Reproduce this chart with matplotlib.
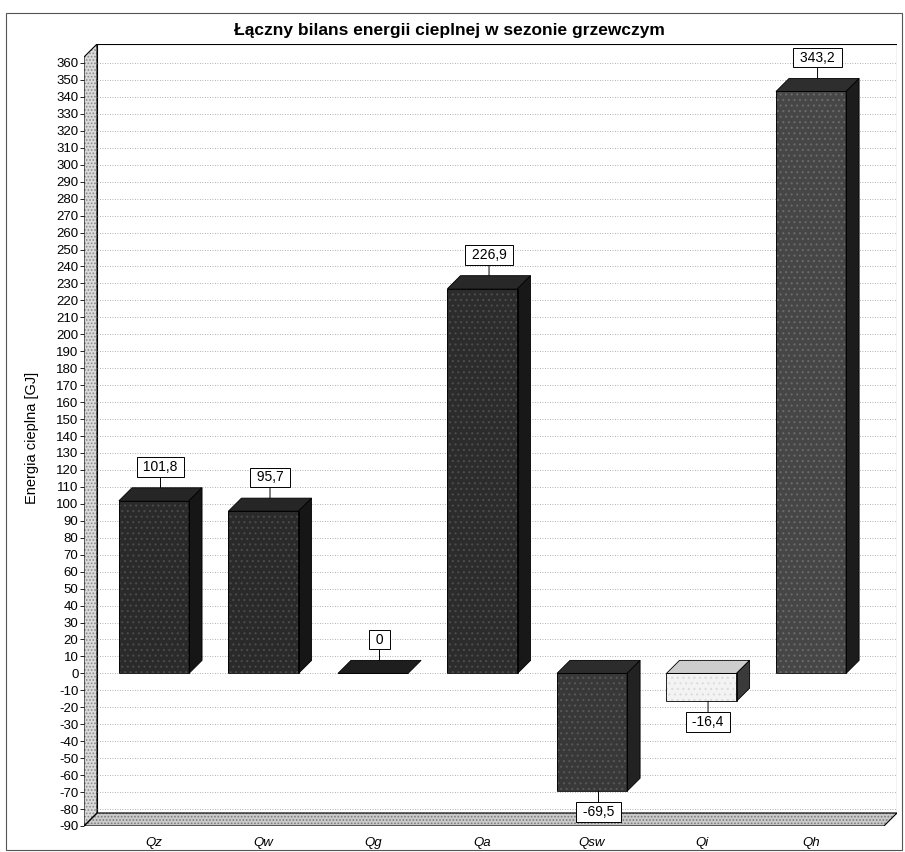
import numpy as np
import matplotlib.pyplot as plt
from matplotlib.patches import Polygon, Rectangle

plt.rcParams['font.family'] = ['Liberation Sans', 'DejaVu Sans']
plt.rcParams['hatch.linewidth'] = 0.8

categories = ['Qz', 'Qw', 'Qg', 'Qa', 'Qsw', 'Qi', 'Qh']
values = [101.8, 95.7, 0, 226.9, -69.5, -16.4, 343.2]
front_colors = ['#2a2a2a', '#2a2a2a', '#2a2a2a', '#2c2c2c', '#383838', '#f3f3f3', '#464646']
speck_colors = ['#4a4a4a', '#4a4a4a', '#4a4a4a', '#4c4c4c', '#575757', '#dcdcdc', '#6a6a6a']
top_colors = ['#262626', '#262626', '#1e1e1e', '#282828', '#2c2c2c', '#cdcdcd', '#2e2e2e']
side_colors = ['#161616', '#161616', '#161616', '#181818', '#222222', '#3a3a3a', '#1c1c1c']
yticks = list(range(-90, 361, 10))

title = 'Łączny bilans energii cieplnej w sezonie grzewczym'
ylabel = 'Energia cieplna [GJ]'

# fake 3d depth (data units)
dx, dy = 0.119, 7.67
width = 0.64
x0, xmax = -0.639, 6.785
ymin, ytop = -90, 371.2

fig = plt.figure(figsize=(9.05, 8.52), dpi=100)
ax = fig.add_axes([84/905, 26/852, (897-84)/905, (826-44)/852])
ax.set_xlim(x0, xmax)
ax.set_ylim(ymin, ytop)
for s in ax.spines.values():
    s.set_visible(False)

# walls and floor
ax.add_patch(Rectangle((x0+dx, ymin+dy), xmax-x0-dx, ytop-ymin-dy, fc='white',
                       ec='black', lw=0.8, zorder=0))
wall = [(x0, ymin), (x0+dx, ymin+dy), (x0+dx, ytop), (x0, ytop-dy)]
floor = [(x0, ymin), (x0+dx, ymin+dy), (xmax, ymin+dy), (xmax-dx, ymin)]
ax.add_patch(Polygon(wall, closed=True, fc='#dadada', ec='#8a8a8a', hatch='.....', lw=0, zorder=0.5))
ax.add_patch(Polygon(wall, closed=True, fill=False, ec='black', lw=0.8, zorder=0.6))
ax.add_patch(Polygon(floor, closed=True, fc='#cacaca', ec='#7a7a7a', hatch='.....', lw=0, zorder=0.5))
ax.add_patch(Polygon(floor, closed=True, fill=False, ec='black', lw=0.8, zorder=0.6))

for v in yticks[1:]:
    ax.plot([x0+dx, xmax], [v, v], color='#999999', lw=0.6, ls=(0, (1, 2)), zorder=1)

x = np.arange(len(categories))
# front faces: speckled fill, then outline
ax.bar(x, values, width, color=front_colors, edgecolor=speck_colors, hatch='...', lw=0, zorder=3)
ax.bar(x, values, width, fill=False, edgecolor='black', lw=0.6, zorder=3.1)

for i, v in enumerate(values):
    l, r = i - width/2, i + width/2
    yb, yt = min(v, 0), max(v, 0)
    ax.add_patch(Polygon([(l, yt), (l+dx, yt+dy), (r+dx, yt+dy), (r, yt)], closed=True,
                         fc=top_colors[i], ec='black', lw=0.6, zorder=3))
    if v != 0:
        ax.add_patch(Polygon([(r, yb), (r+dx, yb+dy), (r+dx, yt+dy), (r, yt)], closed=True,
                             fc=side_colors[i], ec='black', lw=0.6, zorder=3))
    lbl = f'{v:g}'.replace('.', ',')
    if v >= 0:
        xy, off = (i + dx/2, v + dy), 15
    else:
        xy, off = (i + dx/2, v), -15
    ax.annotate(f' {lbl} ', xy=xy, xytext=(0, off), textcoords='offset points',
                ha='center', va='center', fontsize=10, zorder=5,
                bbox=dict(boxstyle='square,pad=0.2', fc='white', ec='black', lw=0.7),
                arrowprops=dict(arrowstyle='-', color='black', lw=0.7, shrinkA=0, shrinkB=0))

ax.set_yticks(yticks)
ax.set_yticklabels([str(t) for t in yticks])
ax.tick_params(axis='y', direction='out', length=3, width=0.6, labelsize=9.5, pad=1)
ax.set_xticks(x)
ax.set_xticklabels(categories, style='italic', fontsize=9.5)
ax.tick_params(axis='x', length=0, pad=8)

fig.text(449/905, 1 - 30/852, title, ha='center', va='center', fontsize=12.5, weight='bold')
fig.text(32/905, 1 - 438/852, ylabel, ha='center', va='center', rotation=90, fontsize=10.5)
fig.patches.append(Rectangle((6/905, 0.002), 0.997 - 6/905, 1 - 13/852 - 0.002,
                             transform=fig.transFigure, fill=False, ec='#555555', lw=0.8))

fig.savefig('out.png', dpi=100)
